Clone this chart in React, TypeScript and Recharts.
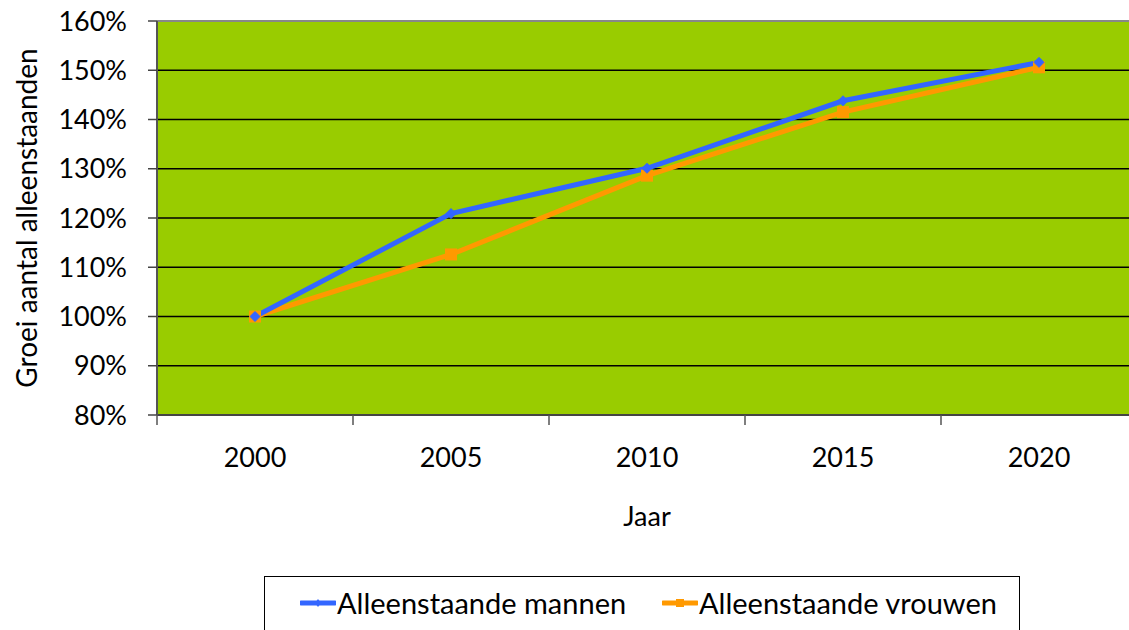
import React from 'react';
import { LineChart, Line, XAxis, YAxis, CartesianGrid, ReferenceLine } from 'recharts';

const years = ['2000', '2005', '2010', '2015', '2020'];
const mannen = [100, 120.9, 130.1, 143.8, 151.6];
const vrouwen = [100, 112.6, 128.6, 141.5, 150.6];
const yTicks = [80, 90, 100, 110, 120, 130, 140, 150, 160];
const seriesNames = ['Alleenstaande mannen', 'Alleenstaande vrouwen'];
const seriesColors = ['#3366FF', '#FF9900'];

const data = years.map((y, i) => ({ year: y, mannen: mannen[i], vrouwen: vrouwen[i] }));

const CHART_W = 1200;
const CHART_H = 630;
const MARGIN = { top: 21, right: 63, bottom: 0, left: 0 };
const Y_W = 157;
const PLOT_W = CHART_W - MARGIN.left - MARGIN.right - Y_W;
const BAND = PLOT_W / years.length;
const FONT = 'Lato, "Open Sans", sans-serif';
const FS = 27;

const XTick = (props: any) => {
  const { x, y, payload, index } = props;
  const half = BAND / 2;
  return (
    <g>
      <line x1={x - half} x2={x - half} y1={y} y2={y + 10} stroke="#555" strokeWidth={1.5} />
      {index === years.length - 1 && (
        <line x1={x + half} x2={x + half} y1={y} y2={y + 10} stroke="#555" strokeWidth={1.5} />
      )}
      <text x={x} y={y + 52} textAnchor="middle" fontSize={FS} fontFamily={FONT} fill="#000">
        {payload.value}
      </text>
    </g>
  );
};

const Diamond = (props: any) => {
  const { cx, cy } = props;
  if (cx == null || cy == null) return null;
  const r = 5;
  return <path d={`M${cx},${cy - r}L${cx + r},${cy}L${cx},${cy + r}L${cx - r},${cy}Z`} fill="#3366FF" stroke="#3366FF" />;
};

const Square = (props: any) => {
  const { cx, cy } = props;
  if (cx == null || cy == null) return null;
  const s = 6;
  return <rect x={cx - s} y={cy - s} width={s * 2} height={s * 2} fill="#FF9900" />;
};

const YLabel = (props: any) => {
  const vb = props.viewBox || {};
  const cx = 26;
  const cy = vb.y + vb.height / 2;
  return (
    <text x={cx} y={cy} transform={`rotate(-90 ${cx} ${cy})`} textAnchor="middle" dominantBaseline="central" fontSize={28} fontFamily={FONT} fill="#000">
      Groei aantal alleenstaanden
    </text>
  );
};

export default function App() {
  return (
    <div style={{ position: 'absolute', left: 0, top: 0, width: 1129, height: 630, overflow: 'hidden', background: '#fff' }}>
      <LineChart width={CHART_W} height={CHART_H} data={data} margin={MARGIN}>
        <CartesianGrid vertical={false} stroke="#000" strokeWidth={1.5} fill="#99CC00" fillOpacity={1} />
        <XAxis
          dataKey="year"
          height={215}
          padding={{ left: BAND / 2, right: BAND / 2 }}
          tickLine={false}
          tickSize={0}
          tickMargin={0}
          axisLine={{ stroke: '#444', strokeWidth: 2 }}
          tick={<XTick />}
          interval={0}
          label={{ value: 'Jaar', position: 'insideTop', offset: 92, fontSize: FS, fontFamily: FONT, fill: '#000' }}
        />
        <YAxis
          width={Y_W}
          domain={[80, 160]}
          ticks={yTicks}
          interval={0}
          tickFormatter={(v: number) => `${v}%`}
          tickSize={9}
          tickMargin={21}
          tickLine={{ stroke: '#444', strokeWidth: 1.5 }}
          axisLine={{ stroke: '#555', strokeWidth: 2 }}
          tick={{ fontSize: FS, fontFamily: FONT, fill: '#000' }}
          label={<YLabel />}
        />
        <ReferenceLine y={160} stroke="#888" strokeWidth={2} />
        <Line dataKey="vrouwen" name={seriesNames[1]} stroke={seriesColors[1]} strokeWidth={5} dot={<Square />} isAnimationActive={false} />
        <Line dataKey="mannen" name={seriesNames[0]} stroke={seriesColors[0]} strokeWidth={5} dot={<Diamond />} isAnimationActive={false} />
      </LineChart>
      <div
        style={{
          position: 'absolute',
          left: 264,
          top: 576,
          width: 756,
          height: 80,
          border: '1px solid #000',
          boxSizing: 'border-box',
          fontFamily: FONT,
          fontSize: 29,
          color: '#000',
        }}
      >
        {seriesNames.map((n, i) => (
          <div key={n} style={{ position: 'absolute', left: i === 0 ? 35 : 397, top: 8, display: 'flex', alignItems: 'center', whiteSpace: 'nowrap' }}>
            <svg width={36} height={14} style={{ marginRight: 1 }}>
              <line x1={1} x2={35} y1={7} y2={7} stroke={seriesColors[i]} strokeWidth={5} strokeLinecap="round" />
              {i === 0 ? (
                <path d="M18,3L21,7L18,11L15,7Z" fill={seriesColors[i]} />
              ) : (
                <rect x={14} y={3} width={8} height={8} fill={seriesColors[i]} />
              )}
            </svg>
            <span>{n}</span>
          </div>
        ))}
      </div>
    </div>
  );
}
